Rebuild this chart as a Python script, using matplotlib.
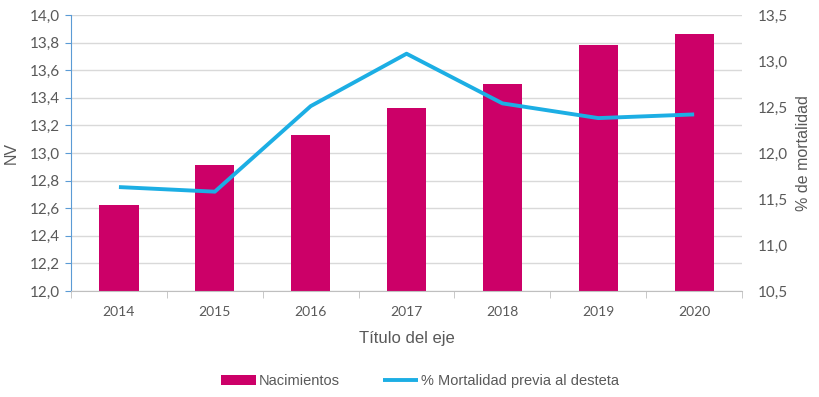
import matplotlib
matplotlib.use("Agg")
import matplotlib.pyplot as plt
import numpy as np
from matplotlib.ticker import FuncFormatter, MultipleLocator

# data
years = ["2014", "2015", "2016", "2017", "2018", "2019", "2020"]
nacimientos = [12.62, 12.91, 13.13, 13.33, 13.50, 13.78, 13.86]
mortalidad = [11.63, 11.58, 12.51, 13.08, 12.54, 12.38, 12.42]

bar_color = "#CC0068"
line_color = "#1CAEE4"
text_color = "#595959"

fig = plt.figure(figsize=(8.2, 3.97), dpi=100)
ax = fig.add_axes([0.0866, 0.267, 0.8184, 0.695])
ax2 = ax.twinx()

x = np.arange(len(years))
bars = ax.bar(x, nacimientos, width=0.41, color=bar_color, zorder=2,
              label="Nacimientos")
line, = ax2.plot(x, mortalidad, color=line_color, lw=2.8, zorder=3,
                 solid_capstyle="butt", label="% Mortalidad previa al desteta")

ax.set_xlim(-0.5, len(years) - 0.5)
ax.set_ylim(12.0, 14.0)
ax2.set_ylim(10.5, 13.5)
ax.yaxis.set_major_locator(MultipleLocator(0.2))
ax2.yaxis.set_major_locator(MultipleLocator(0.5))

comma = FuncFormatter(lambda v, p: f"{v:.1f}".replace(".", ","))
ax.yaxis.set_major_formatter(comma)
ax2.yaxis.set_major_formatter(comma)

ax.grid(axis="y", color="#D9D9D9", lw=1, zorder=0)
ax.set_axisbelow(True)

ax.set_xticks(x)
ax.set_xticklabels(years)
ax.set_xticks(np.arange(-0.5, len(years)), minor=True)
ax.tick_params(axis="x", which="major", length=0, pad=11,
               labelsize=10, labelcolor=text_color)
ax.tick_params(axis="x", which="minor", length=5, color="#BFBFBF")
ax.tick_params(axis="y", length=4, color="#5B9BD5", labelsize=11,
               labelcolor=text_color, pad=4)
ax2.tick_params(axis="y", length=0, labelsize=11, labelcolor=text_color, pad=11)

for s in ["top", "right"]:
    ax.spines[s].set_visible(False)
for s in ["top", "right", "left", "bottom"]:
    ax2.spines[s].set_visible(False)
ax.spines["left"].set_color("#5B9BD5")
ax.spines["bottom"].set_color("#BFBFBF")

for t in ax.get_xticklabels() + ax.get_yticklabels() + ax2.get_yticklabels():
    t.set_fontfamily("Lato")

ax.set_ylabel("NV", fontsize=11.5, color=text_color, labelpad=8,
              fontfamily="Liberation Sans")
ax2.set_ylabel("% de mortalidad", fontsize=11.5, color=text_color, labelpad=6,
               fontfamily="Liberation Sans")
ax.set_xlabel("Título del eje", fontsize=12, color=text_color, labelpad=9,
              fontfamily="Liberation Sans")

fig.legend([bars, line], [bars.get_label(), line.get_label()],
           loc="center", bbox_to_anchor=(0.512, 0.04), ncol=2, frameon=False,
           prop={"family": "Liberation Sans", "size": 10.5},
           labelcolor=text_color, handlelength=2.4, handletextpad=0.2,
           columnspacing=3.0)

fig.savefig("out.png", dpi=100)
